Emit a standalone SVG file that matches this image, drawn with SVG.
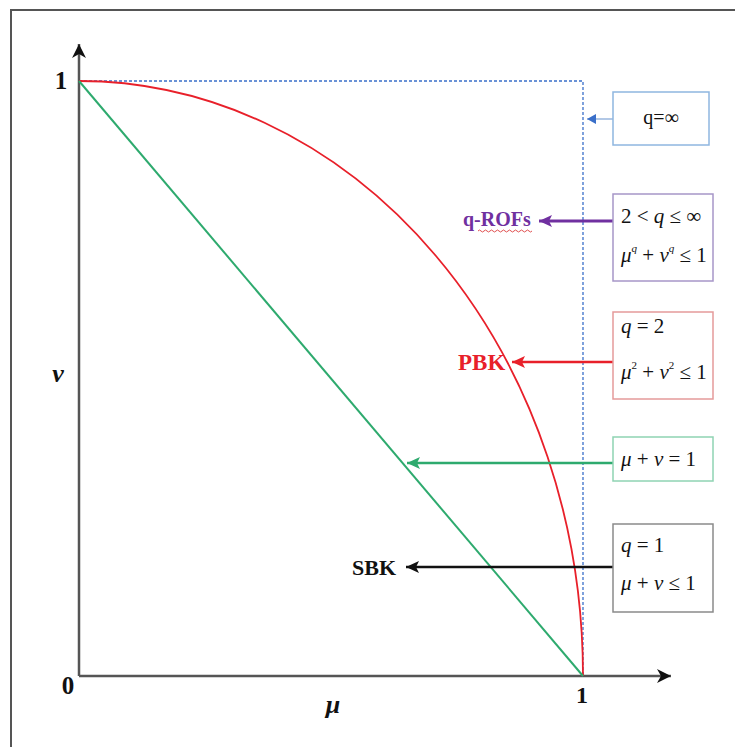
<svg xmlns="http://www.w3.org/2000/svg" width="735" height="747" viewBox="0 0 735 747">
<style>
.t{font-family:"Liberation Serif","Times New Roman",serif;fill:#111}
.b{font-weight:bold}
.i{font-style:italic}
.box{fill:#fff;stroke-width:1.5}
.ax{stroke:#555;stroke-width:2.5;fill:none}
</style>
<defs>
<marker id="mk" markerUnits="userSpaceOnUse" markerWidth="16" markerHeight="14" refX="14" refY="7" orient="auto"><path d="M0,0 L14,7 L0,14 L4,7 z" fill="#111"/></marker>
<marker id="mb" markerUnits="userSpaceOnUse" markerWidth="10" markerHeight="10" refX="9" refY="5" orient="auto"><path d="M0,0 L9,5 L0,10 z" fill="#3a6fc9"/></marker>
<marker id="mp" markerUnits="userSpaceOnUse" markerWidth="14" markerHeight="12" refX="13" refY="6" orient="auto"><path d="M0,0 L13,6 L0,12 L3,6 z" fill="#7030a0"/></marker>
<marker id="mr" markerUnits="userSpaceOnUse" markerWidth="14" markerHeight="12" refX="13" refY="6" orient="auto"><path d="M0,0 L13,6 L0,12 L3,6 z" fill="#e8202a"/></marker>
<marker id="mg" markerUnits="userSpaceOnUse" markerWidth="14" markerHeight="12" refX="13" refY="6" orient="auto"><path d="M0,0 L13,6 L0,12 L3,6 z" fill="#2eaa6e"/></marker>
<marker id="mx" markerUnits="userSpaceOnUse" markerWidth="14" markerHeight="12" refX="13" refY="6" orient="auto"><path d="M0,0 L13,6 L0,12 L3,6 z" fill="#111"/></marker>
</defs>
<rect x="0" y="0" width="735" height="747" fill="#fff"/>
<rect x="11" y="10" width="740" height="760" fill="none" stroke="#555" stroke-width="2"/>

<g id="axes">
<line class="ax" x1="79" y1="676" x2="79" y2="44" marker-end="url(#mk)"/>
<line class="ax" x1="79" y1="676" x2="671" y2="676" marker-end="url(#mk)"/>
<text class="t b" x="61" y="89" font-size="25" text-anchor="middle">1</text>
<text class="t b" x="68" y="694" font-size="25" text-anchor="middle">0</text>
<text class="t b" x="582" y="703" font-size="24" text-anchor="middle">1</text>
<text class="t b i" x="333" y="713" font-size="26" text-anchor="middle">μ</text>
<text class="t b i" x="58" y="382" font-size="26" text-anchor="middle">v</text>
</g>

<g id="curves">
<path d="M79,81 H583 V676" fill="none" stroke="#3a6fc9" stroke-width="1.3" stroke-dasharray="3,2"/>
<path d="M79,81 A504,595 0 0 1 583,676" fill="none" stroke="#e8202a" stroke-width="1.8"/>
<line x1="79" y1="81" x2="583" y2="676" stroke="#2eaa6e" stroke-width="2"/>
</g>

<g id="connectors">
<line x1="613" y1="119" x2="587" y2="119" stroke="#7fa3d6" stroke-width="1.2" marker-end="url(#mb)"/>
<line x1="613" y1="221" x2="539" y2="221" stroke="#7030a0" stroke-width="3" marker-end="url(#mp)"/>
<line x1="613" y1="362" x2="512" y2="362" stroke="#e8202a" stroke-width="2.5" marker-end="url(#mr)"/>
<line x1="613" y1="463" x2="407" y2="463" stroke="#2eaa6e" stroke-width="2.5" marker-end="url(#mg)"/>
<line x1="613" y1="567" x2="406" y2="567" stroke="#111" stroke-width="2.5" marker-end="url(#mx)"/>
</g>

<g id="label-qrofs">
<text class="t b" x="463" y="226" font-size="20" style="fill:#7030a0">q-ROFs</text>
<path d="M478,231 q1.5,-2 3,0 t3,0 t3,0 t3,0 t3,0 t3,0 t3,0 t3,0 t3,0 t3,0 t3,0 t3,0 t3,0 t3,0 t3,0 t3,0 t3,0 t3,0" fill="none" stroke="#e05050" stroke-width="1"/>
</g>
<g id="label-pbk">
<text class="t b" x="458" y="370" font-size="23" style="fill:#e8202a">PBK</text>
</g>
<g id="label-sbk">
<text class="t b" x="352" y="575" font-size="22">SBK</text>
</g>

<g id="box-inf">
<rect class="box" x="613" y="92" width="96" height="53" stroke="#8fb6e0"/>
<text class="t" x="661" y="124" font-size="20" text-anchor="middle">q=∞</text>
</g>
<g id="box-q">
<rect class="box" x="613" y="194" width="100" height="87" stroke="#a796c8"/>
<text class="t" x="621" y="223" font-size="21">2 &lt; <tspan class="i">q</tspan> ≤ ∞</text>
<text class="t" x="621" y="262" font-size="21"><tspan class="i">μ</tspan><tspan class="i" font-size="11" dy="-10">q</tspan><tspan dy="10"> + </tspan><tspan class="i">v</tspan><tspan class="i" font-size="11" dy="-10">q</tspan><tspan dy="10"> ≤ 1</tspan></text>
</g>
<g id="box-2">
<rect class="box" x="613" y="312" width="100" height="87" stroke="#e59a9a"/>
<text class="t" x="621" y="333" font-size="21"><tspan class="i">q</tspan> = 2</text>
<text class="t" x="621" y="379" font-size="21"><tspan class="i">μ</tspan><tspan font-size="11" dy="-10">2</tspan><tspan dy="10"> + </tspan><tspan class="i">v</tspan><tspan font-size="11" dy="-10">2</tspan><tspan dy="10"> ≤ 1</tspan></text>
</g>
<g id="box-line">
<rect class="box" x="613" y="437" width="100" height="44" stroke="#8fd3b3"/>
<text class="t" x="621" y="466" font-size="21"><tspan class="i">μ</tspan> + <tspan class="i">v</tspan> = 1</text>
</g>
<g id="box-1">
<rect class="box" x="613" y="524" width="100" height="88" stroke="#8a8a8a"/>
<text class="t" x="621" y="552" font-size="21"><tspan class="i">q</tspan> = 1</text>
<text class="t" x="621" y="590" font-size="21"><tspan class="i">μ</tspan> + <tspan class="i">v</tspan> ≤ 1</text>
</g>
</svg>
